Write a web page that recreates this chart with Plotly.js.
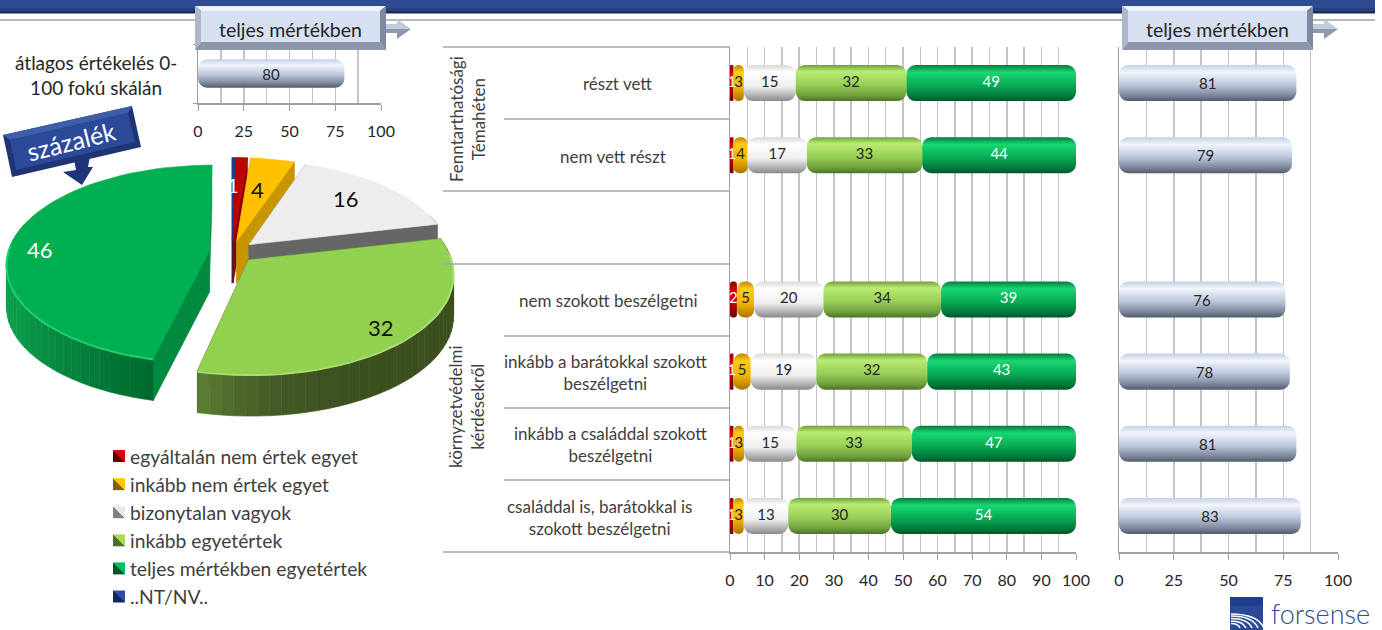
<!DOCTYPE html>
<html><head><meta charset="utf-8">
<script src="https://cdn.plot.ly/plotly-3.0.1.min.js"></script>
<style>html,body{margin:0;padding:0;background:#fff}#c{width:1382px;height:630px}</style>
</head><body><div id="c"></div>
<script>
const FONT='Lato, "Open Sans", sans-serif';
const seriesNames=['egyáltalán nem értek egyet','inkább nem értek egyet','bizonytalan vagyok','inkább egyetértek','teljes mértékben egyetértek','..NT/NV..'];
const pieValues=[1,4,16,32,46,0.3];
const rowLabels=['részt vett','nem vett részt',' ','nem szokott beszélgetni','inkább a barátokkal szokott<br>beszélgetni','inkább a családdal szokott<br>beszélgetni','családdal is, barátokkal is<br>szokott beszélgetni'];
const red=[1,1,null,2,1,1,1];
const yellow=[3,4,null,5,5,3,3];
const grey=[15,17,null,20,19,15,13];
const lightGreen=[32,33,null,34,32,33,30];
const green=[49,44,null,39,43,47,54];
const ntnv=[0,0,null,0,0,0,0];
const fullAgree=[81,79,null,76,78,81,83];
const overallLabel=['átlagos értékelés 0-<br>100 fokú skálán'];
const overallAgree=[80];
const fullAgreeTitle='teljes mértékben';
const pctTitle='százalék';
const brand='forsense';
const groupLabels=['Fenntarthatósági<br>Témahéten','környzetvédelmi<br>kérdésekről'];

const W=1382,H=630;
const dx=(a,b)=>[a/W,b/W], dy=(a,b)=>[1-b/H,1-a/H];
const traces=[];
// ---------- 3D pie, built from pieValues on a full-page pixel axis ----------
const FACE=['#c00000','#ffc000','#ededed','#92d050','#00b050','#1f3a8c'];
const RADIAL=['#8e0000','#c79500','#666666','#3b4f1f','#008a3f','#14265e'];
const ARC=[['#8e0000','#8e0000'],['#c79500','#c79500'],['#666666','#666666'],['#5f8336','#3b4f1f'],['#0ca04e','#006b2f'],['#14265e','#14265e']];
const ARCPOW=[1,1,1,3.5,1.2,1];
const cx=232,cy=252,R=201,tilt=0.483,persp=0.13,expl=23,depth=42;
const proj=(u,v,z)=>[cx+u/(1-persp*v/R),cy+v*tilt/(1-persp*v/R)+z];
const hex=c=>[1,3,5].map(i=>parseInt(c.substr(i,2),16));
const mix=(a,b,t)=>{const A=hex(a),B=hex(b);return 'rgb('+A.map((v,i)=>Math.round(v+(B[i]-v)*t)).join(',')+')';};
function poly(pts,col){
  traces.push({type:'scatter',mode:'lines',xaxis:'x4',yaxis:'y4',x:pts.map(p=>p[0]).concat(pts[0][0]),y:pts.map(p=>p[1]).concat(pts[0][1]),
    fill:'toself',fillcolor:col,line:{color:col,width:0.6},hoverinfo:'skip',showlegend:false});
}
const total=pieValues.reduce((a,b)=>a+b,0);
const order=[5,0,1,2,3,4];
let ang=0;
order.forEach(i=>{
  const a0=ang,a1=ang+pieValues[i]/total*2*Math.PI; ang=a1;
  const m=(a0+a1)/2,tu=expl*Math.sin(m),tv=-expl*Math.cos(m);
  const P=(t,z)=>proj(tu+R*Math.sin(t),tv-R*Math.cos(t),z);
  const T=z=>proj(tu,tv,z);
  const n=Math.max(2,Math.ceil((a1-a0)/(2*Math.PI/120)));
  const ts=[];for(let k=0;k<=n;k++)ts.push(a0+(a1-a0)*k/n);
  poly([T(0),P(a0,0),P(a0,depth),T(depth)],RADIAL[i]);
  poly([T(0),P(a1,0),P(a1,depth),T(depth)],RADIAL[i]);
  const front=ts.filter(t=>Math.cos(t)<0.35);
  if(front.length>1){
    const xs=front.map(t=>P(t,0)[0]),mn=Math.min(...xs),mx=Math.max(...xs);
    for(let k=0;k<front.length-1;k++){
      const f=1-(P(front[k],0)[0]-mn)/(mx-mn||1);
      poly([P(front[k],0),P(front[k+1],0),P(front[k+1],depth),P(front[k],depth)],mix(ARC[i][1],ARC[i][0],Math.pow(f,ARCPOW[i])));
    }
  }
  poly([T(0)].concat(ts.map(t=>P(t,0))),FACE[i]);
  if(i===3||i===4){
    const rim=ts.filter(t=>Math.cos(t)<0.1);
    traces.push({type:'scatter',mode:'lines',xaxis:'x4',yaxis:'y4',x:rim.map(t=>P(t,1)[0]),y:rim.map(t=>P(t,1)[1]),
      line:{color:i===3?'#a9e06a':'#1fcf72',width:2},hoverinfo:'skip',showlegend:false});
  }
});
// ---------- stacked pills with floating bases ----------
const stack=[red,yellow,grey,lightGreen,green,ntnv];
const GRADS=['gRed','gYellow','gGrey','gLight','gGreen','gNavy'];
const TXT=['#ffffff','#262626','#262626','#262626','#ffffff','#ffffff'];
const rowTotal=rowLabels.map((_,r)=>stack.reduce((s,a)=>s+(a[r]||0),0));
const labelTraces=[];
stack.forEach((vals,i)=>{
  const x=vals.map((v,r)=>v===null?null:v/rowTotal[r]*100);
  const base=vals.map((v,r)=>{if(v===null)return null;let s=0;for(let j=0;j<i;j++)s+=stack[j][r];return s/rowTotal[r]*100;});
  traces.push({type:'bar',orientation:'h',name:seriesNames[i],legendgroup:seriesNames[i],x,base,y:rowLabels,xaxis:'x2',yaxis:'y2',width:0.5,
    marker:{color:FACE[i],line:{width:0}},meta:GRADS[i],hoverinfo:'skip',showlegend:true});
  labelTraces.push({type:'scatter',mode:'text',x:x.map((v,r)=>v?base[r]+v/2:null),y:rowLabels,xaxis:'x2',yaxis:'y2',text:vals.map(v=>v?String(v):''),
    textposition:'middle center',textfont:{family:FONT,size:15,color:TXT[i]},hoverinfo:'skip',showlegend:false,cliponaxis:false});
});
traces.push({type:'bar',orientation:'h',x:fullAgree,base:fullAgree.map(v=>v===null?null:0),y:rowLabels,xaxis:'x3',yaxis:'y3',width:0.5,marker:{color:'#c9d3e6',line:{width:0}},meta:'gBlue',
  text:fullAgree.map(v=>v===null?'':String(v)),textposition:'inside',insidetextanchor:'middle',constraintext:'none',textangle:0,
  textfont:{family:FONT,size:15,color:'#262626'},hoverinfo:'skip',showlegend:false});
traces.push({type:'bar',orientation:'h',x:overallAgree,base:overallAgree.map(()=>0),y:overallLabel,xaxis:'x',yaxis:'y',width:0.48,marker:{color:'#c9d3e6',line:{width:0}},meta:'gBlue',
  text:overallAgree.map(String),textposition:'inside',insidetextanchor:'middle',constraintext:'none',textangle:0,
  textfont:{family:FONT,size:15,color:'#262626'},hoverinfo:'skip',showlegend:false});
labelTraces.forEach(t=>traces.push(t));
// ---------- shapes ----------
const GC='#c4c4c4',AC='#a0a0a0';
const sh=[];
const P4=(path,fill,extra)=>sh.push(Object.assign({type:'path',xref:'x4',yref:'y4',path,fillcolor:fill,line:{width:0}},extra||{}));
P4('M0,0L1375,0L1375,8L0,8Z','#2f4b93',{layer:'below'});
P4('M0,8L1375,8L1375,11L0,11Z','#27407f',{layer:'below'});
P4('M0,11L1375,11L1375,13.5L0,13.5Z','#1b2b5a',{layer:'below'});
P4('M0,19L1375,19L1375,21L0,21Z','#b8b8b8',{layer:'below'});
[[47,443],[119,504],[191,443],[264,443],[336,504],[408,504],[480,504],[552,443]].forEach(([y,x0])=>
  sh.push({type:'line',xref:'x4',yref:'y4',x0,x1:730,y0:y,y1:y,line:{color:'#a6a6a6',width:1.5}}));
function header(ox){
  const a=ox+195,b=ox+386,t=6,u=50,ia=ox+201,ib=ox+380,it=11,iu=42;
  P4(`M${ib},24L${ox+397},24L${ox+397},19L${ox+411},29L${ib},29Z`,'#c3cbdb');
  P4(`M${ib},29L${ox+411},29L${ox+397},39L${ox+397},33L${ib},33Z`,'#8e98ad');
  P4(`M${a},${t}L${b},${t}L${ib},${it}L${ia},${it}Z`,'#eef2fa');
  P4(`M${a},${t}L${ia},${it}L${ia},${iu}L${a},${u}Z`,'#aeb8cb');
  P4(`M${b},${t}L${b},${u}L${ib},${iu}L${ib},${it}Z`,'#7e899f');
  P4(`M${a},${u}L${b},${u}L${ib},${iu}L${ia},${iu}Z`,'#8d97ab');
  P4(`M${ia},${it}L${ib},${it}L${ib},${iu}L${ia},${iu}Z`,'#d6e0f1');
}
header(0);header(927);
P4('M74,160L90,156L88,167L93,167L82,185L63,172L76,170Z','#1e3578');
P4('M3,135L132,106L141,147L12,177Z','#1f3573');
P4('M3,135L132,106L128,113L10,140Z','#3f5ea8');
P4('M10,140L128,113L135,142L16,170Z','#2b4a9a');
P4('M1230,597L1263,597L1263,630L1230,630Z','#2a4a98');
P4('M1230,597L1263,597L1263,606L1230,606Z','#1f3f8e');
[[33,14],[27,12],[21,9.5],[15,7],[9,4.5]].forEach(([rx,ry])=>
  sh.push({type:'path',xref:'x4',yref:'y4',path:`M1231,${628-ry}Q${1231+rx*0.8},${628-ry} ${1231+rx},628`,line:{color:'#ffffff',width:1.6}}));
// ---------- annotations ----------
const ann=[];
const A=(x,y,text,size,color,extra)=>ann.push(Object.assign({xref:'x4',yref:'y4',x,y,text,showarrow:false,font:{family:FONT,size,color},xanchor:'center',yanchor:'middle',align:'center'},extra||{}));
A(290,29,fullAgreeTitle,19.5,'#262626');
A(1217,29,fullAgreeTitle,19.5,'#262626');
A(96,75,overallLabel[0],19,'#262626');
A(71,141,pctTitle,25,'#ffffff',{textangle:-14});
A(233,185,String(pieValues[0]),20,'#ffffff');
A(257,189,String(pieValues[1]),22,'#111111');
A(346,198,String(pieValues[2]),22,'#111111');
A(381,327,String(pieValues[3]),22,'#111111');
A(40,249,String(pieValues[4]),22,'#ffffff');
const rowY=[83,156,0,300,372,444,517], rowX=[617,613,0,608,605,610,599];
rowLabels.forEach((t,i)=>{if(t.trim())A(rowX[i],rowY[i],t,17,'#404040');});
A(467,119,groupLabels[0],17,'#404040',{textangle:-90});
A(466,407,groupLabels[1],17,'#404040',{textangle:-90});
A(1320,613,brand,27,'#2f4a8f',{font:{family:'Lato',size:27,color:'#2f4a8f',weight:300}});
const ax=(dom,range,dtick,minor,stand)=>({domain:dom,range,tick0:0,dtick,showgrid:true,gridcolor:GC,gridwidth:1.5,zeroline:false,showline:true,linecolor:AC,linewidth:1.5,
  ticks:'outside',ticklen:6,tickcolor:AC,tickwidth:1,ticklabelstandoff:stand,tickfont:{family:FONT,size:16,color:'#262626'},
  minor:{dtick:minor,tick0:0,showgrid:true,gridcolor:GC,gridwidth:1.5,ticks:''},fixedrange:true});
const ay=(dom,anchor,tk)=>({domain:dom,anchor,type:'category',autorange:'reversed',tickson:'boundaries',showticklabels:false,ticks:tk,ticklen:4,tickcolor:AC,showgrid:false,
  showline:true,linecolor:AC,linewidth:1.5,zeroline:false,fixedrange:true});
const layout={width:W,height:H,margin:{l:0,r:0,t:0,b:0},paper_bgcolor:'#fff',plot_bgcolor:'rgba(0,0,0,0)',barmode:'overlay',bargap:0.5,
  barcornerradius:9,
  font:{family:FONT},shapes:sh,annotations:ann,showlegend:true,
  legend:{x:90/W,y:1-437/H,xanchor:'left',yanchor:'top',bgcolor:'rgba(0,0,0,0)',font:{family:FONT,size:19.3,color:'#404040'},tracegroupgap:0,itemwidth:30,itemclick:false,itemdoubleclick:false},
  xaxis:Object.assign(ax(dx(198,381),[0,100],25,12.5,7),{anchor:'y'}),
  yaxis:ay(dy(44,103),'x','outside'),
  xaxis2:Object.assign(ax(dx(730,1076),[0,100],10,5,7),{anchor:'y2'}),
  yaxis2:ay(dy(47,552),'x2',''),
  xaxis3:Object.assign(ax(dx(1119,1338),[0,100],25,12.5,7),{anchor:'y3'}),
  yaxis3:ay(dy(47,552),'x3',''),
  xaxis4:{domain:[0,1],range:[0,W],visible:false,anchor:'y4',fixedrange:true},
  yaxis4:{domain:[0,1],range:[H,0],visible:false,anchor:'x4',fixedrange:true}
};
const gd=document.getElementById('c');
Plotly.newPlot(gd,traces,layout,{displayModeBar:false,staticPlot:true}).then(()=>{
  const NS='http://www.w3.org/2000/svg';
  const defs=gd.querySelector('.main-svg defs');
  const stops={
    gRed:[[0,'#8a0000'],[.25,'#d80000'],[.6,'#c00000'],[1,'#6e0000']],
    gYellow:[[0,'#c08600'],[.2,'#ffcc1a'],[.6,'#f5b400'],[1,'#a87400']],
    gGrey:[[0,'#d8d8d8'],[.2,'#ffffff'],[.6,'#eeeeee'],[.85,'#b0b0b0'],[1,'#8a8a8a']],
    gLight:[[0,'#6fa03a'],[.18,'#b9ec70'],[.55,'#96cf55'],[.85,'#6f9e3c'],[1,'#4b7228']],
    gGreen:[[0,'#067a3a'],[.2,'#17d872'],[.6,'#07a552'],[.85,'#027a3a'],[1,'#00562a']],
    gNavy:[[0,'#2a4a98'],[1,'#14265e']],
    gBlue:[[0,'#c4d0e6'],[.2,'#f1f5fc'],[.55,'#bcc7db'],[.85,'#7a8599'],[1,'#525b6c']]
  };
  const legendStops=[['#e00000','#5a0000'],['#ffc800','#7f6000'],['#e8e8e8','#808080'],['#a5dc60','#4f6f28'],['#00c05a','#00582a'],['#2f4fa0','#14265e']];
  const mk=(id,st,x1,y1,x2,y2)=>{
    const g=document.createElementNS(NS,'linearGradient');
    g.setAttribute('id',id);g.setAttribute('x1',x1);g.setAttribute('y1',y1);g.setAttribute('x2',x2);g.setAttribute('y2',y2);
    st.forEach(([o,c])=>{const s=document.createElementNS(NS,'stop');s.setAttribute('offset',o);s.setAttribute('stop-color',c);g.appendChild(s);});
    defs.appendChild(g);
  };
  Object.keys(stops).forEach(id=>mk(id,stops[id],0,0,0,1));
  legendStops.forEach((c,i)=>mk('lg'+i,[[0,c[0]],[.5,c[0]],[.5,c[1]],[1,c[1]]],1,0,0,1));
  gd.querySelectorAll('.barlayer .trace').forEach(tr=>{
    const d=tr.__data__&&tr.__data__[0];
    const m=d&&d.trace&&d.trace.meta;
    if(m)tr.querySelectorAll('.point path').forEach(p=>{p.style.fill='url(#'+m+')';});
  });
  gd.querySelectorAll('.legend .legendsymbols').forEach((s,i)=>{
    s.setAttribute('transform','translate(9,0)');
    s.querySelectorAll('path').forEach(p=>{p.setAttribute('d','M6,6H-6V-6H6Z');p.style.fill='url(#lg'+i+')';});
  });
});
</script></body></html>
